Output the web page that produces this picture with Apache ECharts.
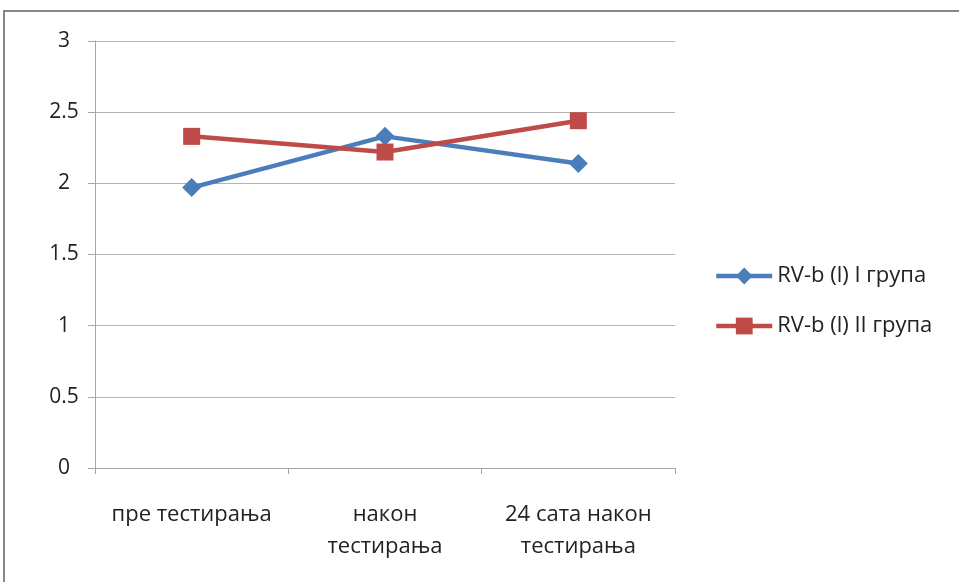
<!DOCTYPE html>
<html>
<head>
<meta charset="utf-8">
<script src="https://cdn.jsdelivr.net/npm/echarts@6/dist/echarts.min.js"></script>
<style>
  html, body { margin: 0; padding: 0; background: #fff; }
  #chart { width: 959px; height: 582px; }
</style>
</head>
<body>
<div id="chart"></div>
<script>
// Categories on the x axis
const categories = ['пре тестирања', 'након\nтестирања', '24 сата након\nтестирања'];
// Series names
const seriesNames = ['RV-b (l) I група', 'RV-b (l) II група'];
// Values per group
const groupI = [1.97, 2.33, 2.14];
const groupII = [2.33, 2.22, 2.44];
// Value axis ticks
const yMin = 0, yMax = 3, yStep = 0.5;

const font = '"Open Sans", "Noto Sans", sans-serif';
const chart = echarts.init(document.getElementById('chart'), null, { renderer: 'canvas' });

chart.setOption({
  animation: false,
  backgroundColor: '#fff',
  graphic: [{
    type: 'rect',
    shape: { x: 4, y: 11, width: 1000, height: 620 },
    style: { fill: 'none', stroke: '#878787', lineWidth: 2 },
    silent: true
  }],
  grid: { left: 95, right: 284, top: 41, bottom: 114 },
  legend: {
    orient: 'vertical',
    left: 714,
    top: 265,
    padding: 0,
    itemWidth: 56,
    itemHeight: 21,
    itemGap: 28,
    lineStyle: { width: 4.5 },
    textStyle: { fontFamily: font, fontSize: 22, color: '#222' },
    data: seriesNames
  },
  xAxis: {
    type: 'category',
    data: categories,
    boundaryGap: true,
    axisLine: { lineStyle: { color: '#a6a6a6', width: 1 } },
    axisTick: { show: true, length: 6, lineStyle: { color: '#a6a6a6' } },
    axisLabel: {
      margin: 31, fontFamily: font, fontSize: 22, color: '#222', lineHeight: 32,
      interval: 0
    }
  },
  yAxis: {
    type: 'value',
    min: yMin, max: yMax, interval: yStep,
    axisLine: { show: true, lineStyle: { color: '#a6a6a6', width: 1 } },
    axisTick: { show: true, length: 7, lineStyle: { color: '#a6a6a6' } },
    splitLine: { lineStyle: { color: '#b3b3b3', width: 1 } },
    axisLabel: {
      margin: 31, align: 'center', fontFamily: font, fontSize: 21, color: '#222',
      formatter: v => String(v)
    }
  },
  series: [
    {
      name: seriesNames[0], type: 'line', data: groupI,
      symbol: 'diamond', symbolSize: 19,
      lineStyle: { color: '#4a7ebb', width: 4.5 },
      itemStyle: { color: '#4a7ebb' },
      z: 2
    },
    {
      name: seriesNames[1], type: 'line', data: groupII,
      symbol: 'rect', symbolSize: 17,
      lineStyle: { color: '#be4b48', width: 4.5 },
      itemStyle: { color: '#be4b48' },
      z: 3
    }
  ]
});
</script>
</body>
</html>
